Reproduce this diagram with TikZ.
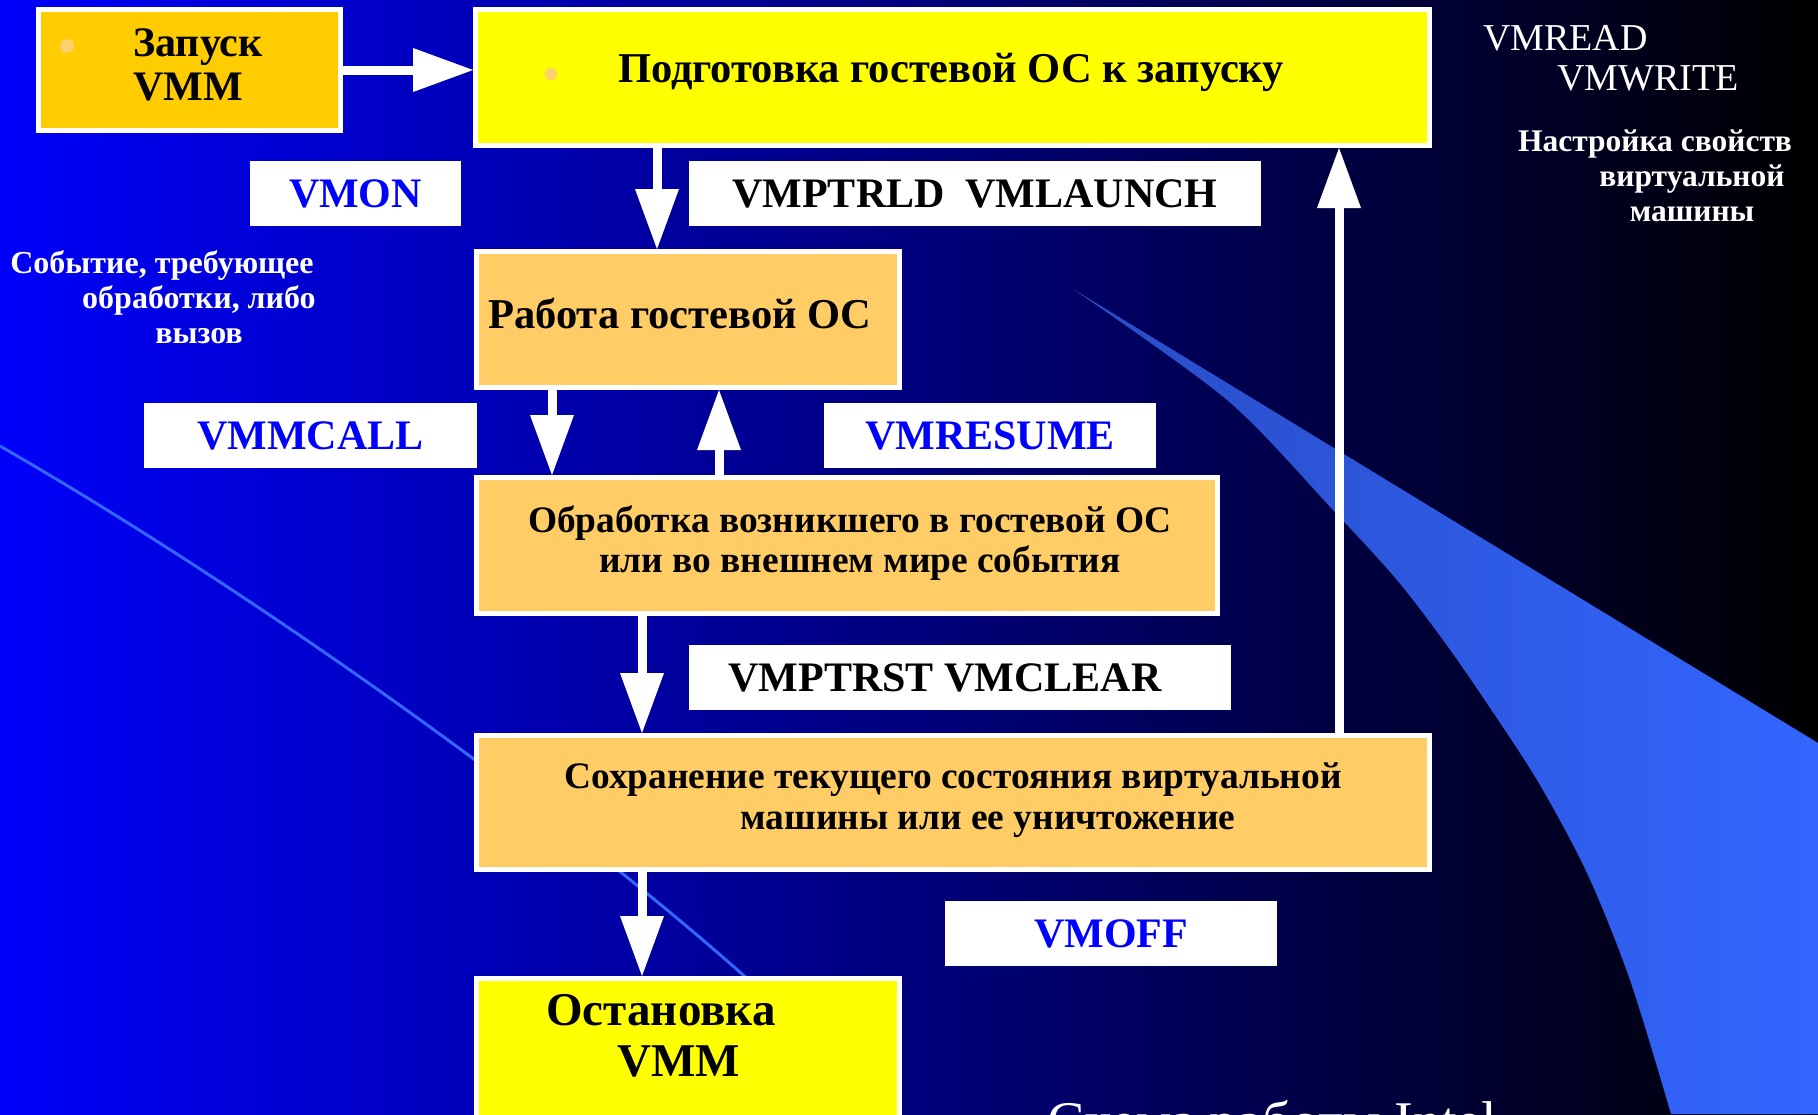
\documentclass[tikz,border=0pt]{standalone}
\usepackage{fontspec}
\setmainfont{Liberation Serif}
\usetikzlibrary{arrows.meta,calc}
\definecolor{bgblue}{RGB}{0,0,250}
\definecolor{boxorange}{RGB}{255,204,102}
\definecolor{boxgold}{RGB}{255,204,0}
\definecolor{boxyellow}{RGB}{255,255,0}
\definecolor{lblblue}{RGB}{0,0,255}
\definecolor{swlight}{RGB}{51,102,255}
\definecolor{swdark}{RGB}{40,76,196}
\definecolor{dotcol}{RGB}{255,208,112}
\begin{document}
\begin{tikzpicture}[x=1pt,y=-1pt,
  box/.style={draw=white,line width=5pt,inner sep=0pt,rectangle},
  lbl/.style={fill=white,inner sep=0pt,font=\bfseries\fontsize{42}{44}\selectfont},
  arr/.style={draw=white,line width=9pt,-{Triangle[length=60pt,width=44pt,line width=0pt]}},
  txt/.style={inner sep=0pt,align=center,text=black},
  wtxt/.style={inner sep=0pt,align=center,text=white}]
\useasboundingbox (0,0) rectangle (1818,1114);
\clip (0,0) rectangle (1818,1114);
% background
\shade[left color=bgblue,right color=black] (0,0) rectangle (1818,1114);
% swoosh
\shade[left color=swdark,right color=swlight] (1073,289) -- (1818,743) -- (1818,1114) -- (1671,1114)
  -- plot[smooth] coordinates {(1671,1114) (1630,980) (1587,873) (1537,780) (1480,693) (1443,640) (1397,580) (1333,510) (1227,400) (1073,289)} -- cycle;
% thin line
\draw[swlight,line width=3pt] (0,446) .. controls (250,590) and (560,810) .. (760,990);

% boxes
\node[box,fill=boxgold,minimum width=302pt,minimum height=121pt] (zap) at (189.5,70) {};
\node[box,fill=boxyellow,minimum width=954pt,minimum height=136pt] (podg) at (952.5,77.5) {};
\node[box,fill=boxorange,minimum width=423pt,minimum height=136pt] (rab) at (688,319.5) {};
\node[box,fill=boxorange,minimum width=741pt,minimum height=136pt] (obr) at (847,545.5) {};
\node[box,fill=boxorange,minimum width=953pt,minimum height=134pt] (sohr) at (953,802.5) {};
\node[box,fill=boxyellow,minimum width=423pt,minimum height=149pt] (ost) at (688,1053) {};

% bullets
\fill[dotcol] (67,46) circle (7pt);
\fill[dotcol] (551,74) circle (6pt);

% labels
\node[lbl,text=lblblue,minimum width=211pt,minimum height=65pt] (vmon) at (355.5,193.5) {VMON};
\node[lbl,text=black,minimum width=572pt,minimum height=65pt] (vmlaunch) at (975,193.5) {VMPTRLD\ \ VMLAUNCH};
\node[lbl,text=lblblue,minimum width=333pt,minimum height=65pt] (vmmcall) at (310.5,435.5) {VMMCALL};
\node[lbl,text=lblblue,minimum width=332pt,minimum height=65pt] (vmresume) at (990,435.5) {VMRESUME};
\node[lbl,text=black,minimum width=542pt,minimum height=65pt] (vmclear) at (960,677.5) {VMPTRST VMCLEAR\hspace*{30pt}};
\node[lbl,text=lblblue,minimum width=332pt,minimum height=65pt] (vmoff) at (1111,933.5) {VMOFF};

% arrows
\draw[arr] (zap.east) -- (zap.east -| podg.west);
\draw[arr] ($(podg.south -| rab.north)+(-31,0)$) -- ($(rab.north)+(-31,0)$);
\draw[arr] ($(rab.south)+(-136,0)$) -- ($(obr.north -| rab.south)+(-136,0)$);
\draw[arr] ($(obr.north -| rab.south)+(31,0)$) -- ($(rab.south)+(31,0)$);
\draw[arr] ($(obr.south -| rab.south)+(-46,0)$) -- ($(sohr.north -| rab.south)+(-46,0)$);
\draw[arr] ($(sohr.north)+(386,0)$) -- ($(podg.south -| sohr.north)+(386,0)$);
\draw[arr] ($(sohr.south -| ost.north)+(-46,0)$) -- ($(ost.north)+(-46,0)$);

% box texts
\node[txt,font=\bfseries\fontsize{42}{44}\selectfont] (zaptxt) at (198,65) {Запуск\\VMM\hspace*{20pt}};
\node[txt,font=\bfseries\fontsize{42.5}{44}\selectfont] (podgtxt) at (951,72) {Подготовка гостевой ОС к запуску};
\node[txt,font=\bfseries\fontsize{42.5}{44}\selectfont] (rabtxt) at (680,313) {Работа гостевой ОС};
\node[txt,font=\bfseries\fontsize{37.4}{40}\selectfont] (obrtxt) at (850,543) {Обработка возникшего в гостевой ОС\\\hspace*{20pt}или во внешнем мире события};
\node[txt,font=\bfseries\fontsize{37.4}{41}\selectfont] (sohrtxt) at (953,800) {Сохранение текущего состояния виртуальной\\\hspace*{70pt}машины или ее уничтожение};
\node[txt,font=\bfseries\fontsize{47}{51}\selectfont] (osttxt) at (661,1036) {Остановка\\\hspace*{36pt}VMM};

% side texts
\node[wtxt,font=\bfseries\fontsize{32}{35}\selectfont] (sobtxt) at (199,297) {Событие, требующее\hspace*{74pt}\\обработки, либо\\вызов};
\node[wtxt,font=\bfseries\fontsize{31.5}{35}\selectfont] (nasttxt) at (1692,176) {Настройка свойств\hspace*{74pt}\\виртуальной\\машины};
\node[wtxt,anchor=base west,font=\fontsize{38}{40}\selectfont] (vmread) at (1483,50) {VMREAD};
\node[wtxt,anchor=base west,font=\fontsize{38}{40}\selectfont] (vmwrite) at (1557,90) {VMWRITE};
\node[wtxt,anchor=base west,font=\fontsize{56}{60}\selectfont] (shema) at (1047,1140) {Схема работы Intel};
\end{tikzpicture}
\end{document}
